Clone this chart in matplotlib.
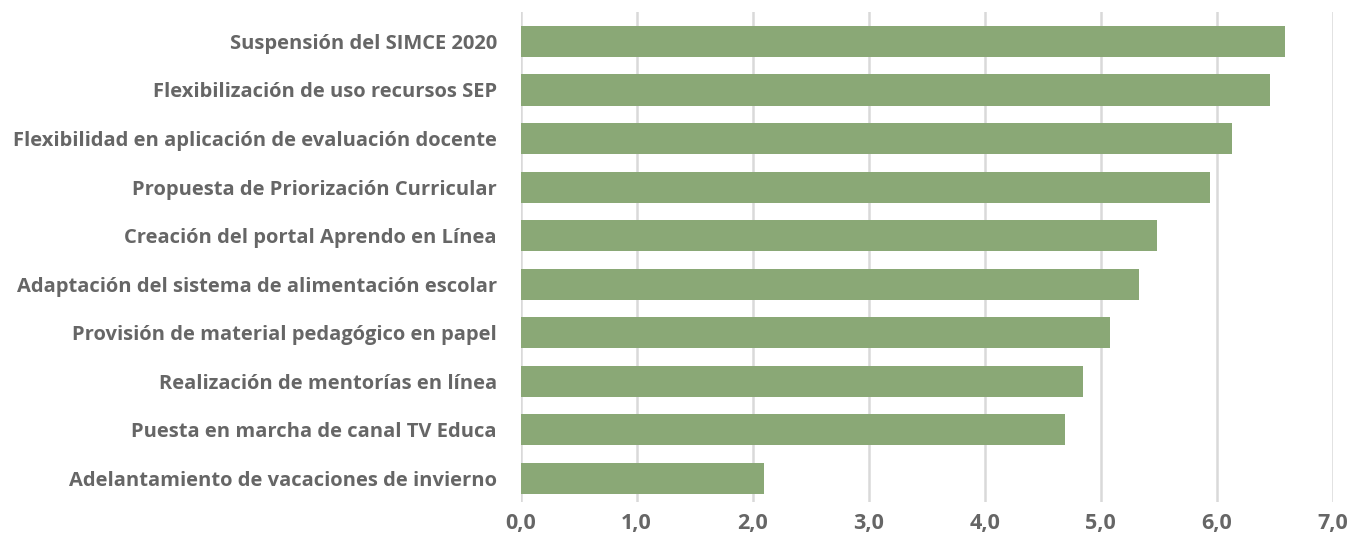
import matplotlib
matplotlib.use("Agg")
import matplotlib.pyplot as plt
from matplotlib.ticker import FuncFormatter

categories = [
    "Suspensión del SIMCE 2020",
    "Flexibilización de uso recursos SEP",
    "Flexibilidad en aplicación de evaluación docente",
    "Propuesta de Priorización Curricular",
    "Creación del portal Aprendo en Línea",
    "Adaptación del sistema de alimentación escolar",
    "Provisión de material pedagógico en papel",
    "Realización de mentorías en línea",
    "Puesta en marcha de canal TV Educa",
    "Adelantamiento de vacaciones de invierno",
]
scores = [6.59, 6.46, 6.13, 5.94, 5.49, 5.33, 5.08, 4.85, 4.69, 2.10]
x_ticks = [0, 1, 2, 3, 4, 5, 6, 7]

BAR_COLOR = "#8AA876"
TEXT_COLOR = "#666666"
GRID_COLOR = "#D9D9D9"

plt.rcParams["font.family"] = ["Open Sans", "DejaVu Sans"]

fig = plt.figure(figsize=(13.52, 5.35), dpi=100)
ax = fig.add_axes([0.385, 0.062, 0.6007, 0.9156])

ypos = list(range(len(categories)))
ax.barh(ypos, scores, height=0.64, color=BAR_COLOR, zorder=3)
# first bar sits a bit lower than an even split would put it
ax.set_ylim(len(categories) - 1 + 0.484, -0.607)
ax.set_xlim(0, 7)

ax.set_yticks(ypos)
ax.set_yticklabels(categories, fontsize=14.5, fontweight="bold", color=TEXT_COLOR)
ax.set_xticks(x_ticks)
ax.xaxis.set_major_formatter(FuncFormatter(lambda v, _: f"{v:.1f}".replace(".", ",")))
for lbl in ax.get_xticklabels():
    lbl.set_fontsize(15.5)
    lbl.set_fontweight("bold")
    lbl.set_color(TEXT_COLOR)

ax.tick_params(axis="both", length=0)
ax.tick_params(axis="y", pad=17)
ax.tick_params(axis="x", pad=8)
ax.grid(axis="x", color=GRID_COLOR, linewidth=1.8, zorder=0)
for side in ax.spines.values():
    side.set_visible(False)

fig.savefig("out.png", dpi=100)
